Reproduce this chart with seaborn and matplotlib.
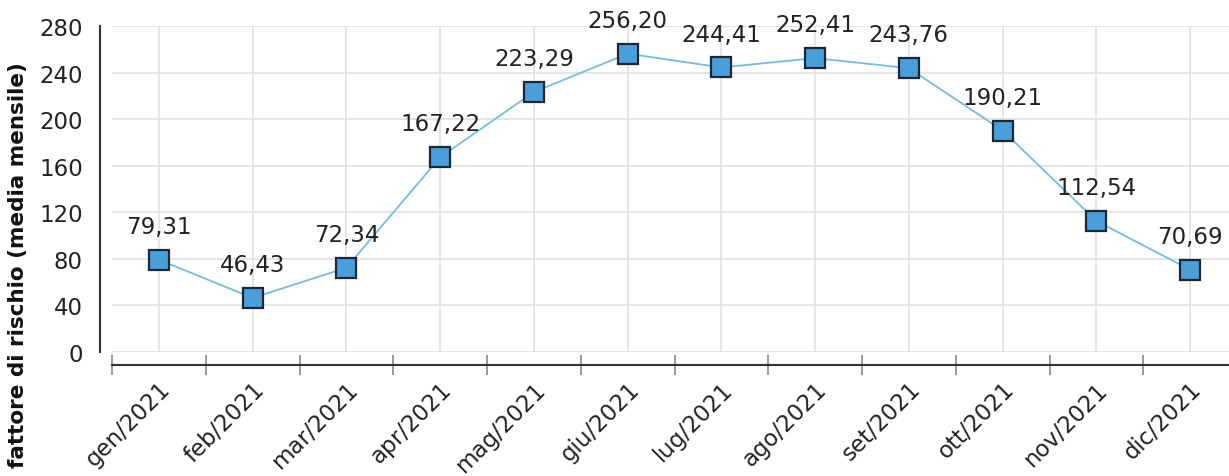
import matplotlib
matplotlib.use("Agg")
import matplotlib.pyplot as plt
from matplotlib.ticker import FixedLocator
import seaborn as sns
import pandas as pd
import numpy as np

months = ["gen/2021", "feb/2021", "mar/2021", "apr/2021", "mag/2021", "giu/2021",
          "lug/2021", "ago/2021", "set/2021", "ott/2021", "nov/2021", "dic/2021"]
values = [79.31, 46.43, 72.34, 167.22, 223.29, 256.20,
          244.41, 252.41, 243.76, 190.21, 112.54, 70.69]
y_ticks = [0, 40, 80, 120, 160, 200, 240, 280]
y_label = "fattore di rischio (media mensile)"

sns.set_theme(style="white")
plt.rcParams["font.family"] = ["DejaVu Sans"]

df = pd.DataFrame({"pos": np.arange(len(months)), "value": values, "month": months})

fig = plt.figure(figsize=(12.29, 4.77), dpi=100)
ax = fig.add_axes([112 / 1229, 124 / 477, 1125 / 1229, 326 / 477])

sns.lineplot(data=df, x="pos", y="value", ax=ax, color="#74bce4", linewidth=1.3,
             marker="s", markersize=15, markerfacecolor="#4a9fdb",
             markeredgecolor="#1c2733", markeredgewidth=1.6, zorder=3)

ax.set_xlim(-0.5, len(months) - 0.5)
ax.set_ylim(0, 280)
ax.set_yticks(y_ticks)
ax.set_xticks(df["pos"])
ax.set_xticklabels(months)
ax.xaxis.set_minor_locator(FixedLocator(np.arange(-0.5, len(months), 1.0)))

ax.grid(True, which="major", color="#dedede", linewidth=1.1)
ax.set_axisbelow(True)

sns.despine(ax=ax, offset=9)
for side in ("left", "bottom"):
    ax.spines[side].set_color("#333333")
    ax.spines[side].set_linewidth(1.5)

ax.tick_params(axis="y", which="major", direction="inout", length=14, width=1.2,
               color="#777777", labelsize=16.5, labelcolor="#222222", pad=5)
ax.tick_params(axis="x", which="major", direction="out", length=7, width=1.1,
               color="#dedede", labelsize=16.5, labelcolor="#222222", pad=2)
ax.tick_params(axis="x", which="minor", bottom=True, direction="inout", length=14,
               width=1.2, color="#888888")

for lbl in ax.get_xticklabels():
    lbl.set_rotation(45)
    lbl.set_ha("right")
    lbl.set_va("top")
    lbl.set_rotation_mode("anchor")

ax.set_xlabel("")
ax.set_ylabel("")
fig.text(0.015, 0.444, y_label, rotation=90, ha="center", va="center",
         fontsize=15.5, fontweight="bold", color="#111111")

for x, v in zip(df["pos"], values):
    ax.annotate(f"{v:.2f}".replace(".", ","), (x, v), xytext=(0, 24),
                textcoords="offset points", ha="center", va="center",
                fontsize=16.5, color="#222222", annotation_clip=False)

fig.savefig("out.png", dpi=100)
